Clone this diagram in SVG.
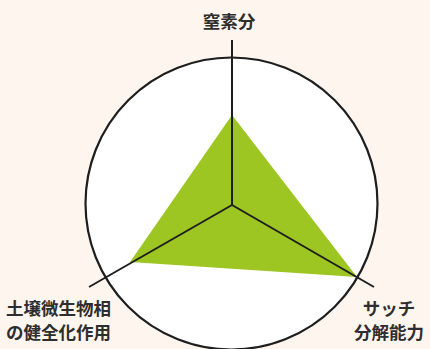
<svg xmlns="http://www.w3.org/2000/svg" width="430" height="349" viewBox="0 0 430 349">
  <style>
    .lbl { font-family: "Noto Sans CJK JP", "Noto Sans", sans-serif; font-size: 17.5px; font-weight: 700; fill: #2e2e2e; }
    .axis { stroke: #1e1e1e; stroke-width: 2; fill: none; }
  </style>
  <rect x="0" y="0" width="430" height="349" fill="#fdf5ee"/>
  <g id="frame">
    <circle cx="231.5" cy="203.5" r="146" fill="#ffffff" stroke="#1e1e1e" stroke-width="2.2"/>
  </g>
  <g id="data">
    <polygon points="232,115 130,262 357,277" fill="#9dc623"/>
  </g>
  <g id="connectors">
    <line class="axis" x1="232" y1="205" x2="232" y2="40"/>
    <line class="axis" x1="232" y1="205" x2="89" y2="287"/>
    <line class="axis" x1="232" y1="205" x2="374" y2="287"/>
  </g>
  <g id="node-nitrogen">
    <text class="lbl" x="229" y="28" text-anchor="middle">窒素分</text>
  </g>
  <g id="node-soil">
    <text class="lbl" x="6" y="315">土壌微生物相</text>
    <text class="lbl" x="6" y="339">の健全化作用</text>
  </g>
  <g id="node-thatch">
    <text class="lbl" x="389" y="315" text-anchor="middle">サッチ</text>
    <text class="lbl" x="389" y="339" text-anchor="middle">分解能力</text>
  </g>
</svg>
